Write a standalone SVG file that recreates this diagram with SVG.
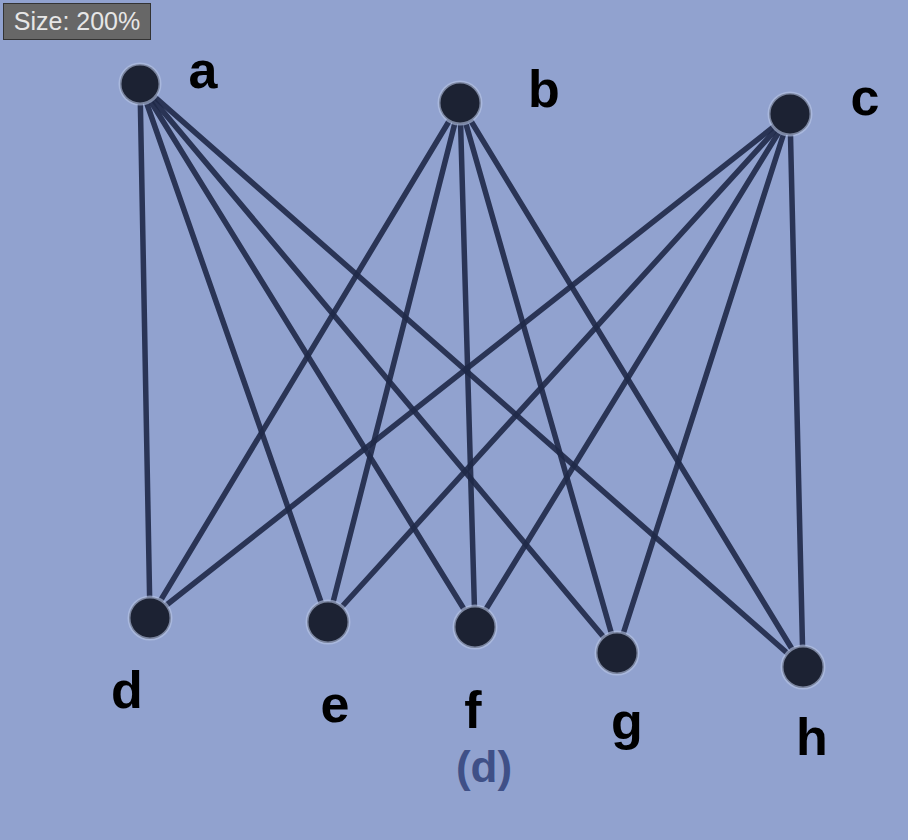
<svg xmlns="http://www.w3.org/2000/svg" width="908" height="840" viewBox="0 0 908 840">
<style>
.edge{stroke:#1f2948;stroke-width:5.5;stroke-linecap:round;opacity:0.9}
.node{fill:#1c2233;stroke:#b9c6e6;stroke-width:3;stroke-opacity:0.6}
.lbl{font-family:"Liberation Sans",Arial,sans-serif;font-weight:bold;font-size:52px;fill:#000;text-anchor:middle}
</style>
<rect x="0" y="0" width="908" height="840" fill="#91a2cf"/>
<g id="connectors">
<line class="edge" x1="140" y1="84" x2="150" y2="618"/>
<line class="edge" x1="140" y1="84" x2="328" y2="622"/>
<line class="edge" x1="140" y1="84" x2="475" y2="627"/>
<line class="edge" x1="140" y1="84" x2="617" y2="653"/>
<line class="edge" x1="140" y1="84" x2="803" y2="667"/>
<line class="edge" x1="460" y1="103" x2="150" y2="618"/>
<line class="edge" x1="460" y1="103" x2="328" y2="622"/>
<line class="edge" x1="460" y1="103" x2="475" y2="627"/>
<line class="edge" x1="460" y1="103" x2="617" y2="653"/>
<line class="edge" x1="460" y1="103" x2="803" y2="667"/>
<line class="edge" x1="790" y1="114" x2="150" y2="618"/>
<line class="edge" x1="790" y1="114" x2="328" y2="622"/>
<line class="edge" x1="790" y1="114" x2="475" y2="627"/>
<line class="edge" x1="790" y1="114" x2="617" y2="653"/>
<line class="edge" x1="790" y1="114" x2="803" y2="667"/>
</g>
<g id="node-a"><circle class="node" cx="140" cy="84" r="20"/><text class="lbl" x="203" y="88">a</text></g>
<g id="node-b"><circle class="node" cx="460" cy="103" r="21"/><text class="lbl" x="544" y="107">b</text></g>
<g id="node-c"><circle class="node" cx="790" cy="114" r="21"/><text class="lbl" x="865" y="115">c</text></g>
<g id="node-d"><circle class="node" cx="150" cy="618" r="21"/><text class="lbl" x="127" y="708">d</text></g>
<g id="node-e"><circle class="node" cx="328" cy="622" r="21"/><text class="lbl" x="335" y="722">e</text></g>
<g id="node-f"><circle class="node" cx="475" cy="627" r="21"/><text class="lbl" x="473" y="728">f</text></g>
<g id="node-g"><circle class="node" cx="617" cy="653" r="21"/><text class="lbl" x="627" y="739">g</text></g>
<g id="node-h"><circle class="node" cx="803" cy="667" r="21"/><text class="lbl" x="812" y="755">h</text></g>
<text x="484" y="782" font-family="Liberation Sans, Arial, sans-serif" font-size="44" font-weight="bold" fill="#3f5087" text-anchor="middle">(d)</text>
<g id="badge">
<rect x="3.5" y="3.5" width="147" height="36" fill="#676767" stroke="#333" stroke-width="1"/>
<text x="77" y="30" font-family="Liberation Sans, Arial, sans-serif" font-size="25" fill="#e6e6e6" text-anchor="middle">Size: 200%</text>
</g>
</svg>
